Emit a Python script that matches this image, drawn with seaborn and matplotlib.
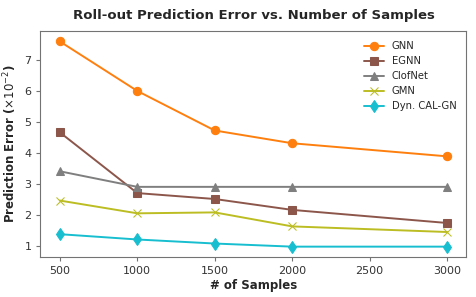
import seaborn as sns
import matplotlib.pyplot as plt
import pandas as pd

samples = [500, 1000, 1500, 2000, 3000]
gnn = [7.58, 5.99, 4.72, 4.31, 3.89]
egnn = [4.66, 2.71, 2.52, 2.17, 1.75]
clofnet = [3.41, 2.91, 2.91, 2.91, 2.91]
gmn = [2.47, 2.06, 2.09, 1.64, 1.46]
calgn = [1.39, 1.22, 1.09, 0.99, 0.99]

models = ['GNN', 'EGNN', 'ClofNet', 'GMN', 'Dyn. CAL-GN']
series = [gnn, egnn, clofnet, gmn, calgn]
colors = ['tab:orange', 'tab:brown', 'tab:gray', 'tab:olive', 'tab:cyan']
markers = ['o', 's', '^', 'x', 'd']

sns.set_style('ticks', {'axes.edgecolor': '0.45', 'xtick.color': '0.45', 'ytick.color': '0.45'})
plt.rcParams['font.family'] = ['DejaVu Sans']

fig, ax = plt.subplots(figsize=(4.76, 2.97), dpi=100)

for name, vals, c, m in zip(models, series, colors, markers):
    df = pd.DataFrame({'samples': samples, 'error': vals})
    sns.lineplot(data=df, x='samples', y='error', color=c, marker=m,
                 markersize=6, markeredgecolor=c, linewidth=1.4, label=name, ax=ax)

ax.tick_params(labelsize=8, labelcolor='0.2', length=3)
ax.set_xticks([500, 1000, 1500, 2000, 2500, 3000])
ax.set_yticks([1, 2, 3, 4, 5, 6, 7])
ax.set_title('Roll-out Prediction Error vs. Number of Samples', fontsize=9.5, fontweight='bold', pad=9)
ax.set_xlabel('# of Samples', fontsize=8.5, fontweight='bold', labelpad=2)
ax.set_ylabel(r'Prediction Error ($\times10^{-2}$)', fontsize=8.5, fontweight='bold')
ax.legend(frameon=False, fontsize=7.2, loc='upper right', borderaxespad=0.6)

fig.subplots_adjust(left=0.085, right=0.98, top=0.895, bottom=0.135)
fig.savefig('out.png', dpi=100)
